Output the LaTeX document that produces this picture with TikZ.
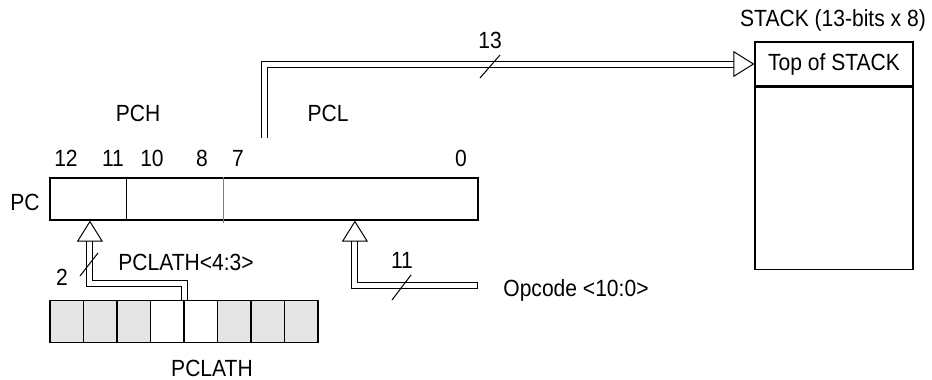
\documentclass[tikz,border=0pt]{standalone}
\usepackage{fontspec}
\setmainfont{Liberation Sans}[FakeStretch=0.9]
\usepackage{tikz}
\usetikzlibrary{arrows.meta, positioning}

\begin{document}
\begin{tikzpicture}[
    x=0.5pt, y=-0.5pt,
    font=\fontsize{11.7}{13}\selectfont,
    reg/.style={rectangle, draw, line width=0.6pt, inner sep=0pt, minimum height=21pt},
    cell/.style={reg, minimum width=16.75pt},
    lbl/.style={inner sep=0pt},
    bus/.style={line width=0.5pt, double, double distance=2.5pt},
    busarrow/.style={-{Triangle[open, length=10.5pt, width=13pt, line width=0.5pt]}},
    slash/.style={line width=0.5pt}
]
\useasboundingbox (0,0) rectangle (932,380);

% PC register
\node[reg, minimum width=214pt] (pcreg) at (264,199) {};
\node[lbl] (pclbl) at (25,202) {PC};
\draw[line width=0.6pt] ([xshift=38.5pt]pcreg.north west) -- ([xshift=38.5pt]pcreg.south west);
\draw[gray, line width=0.5pt] ([xshift=87pt]pcreg.north west) -- ([xshift=87pt, yshift=-1pt]pcreg.south west);

% Bit numbers and halves
\foreach \b/\x in {12/66, 11/113, 10/152, 8/202, 7/238, 0/461}
    \node[lbl] (bit\b) at (\x,158) {\b};
\node[lbl] (pch) at (138,113) {PCH};
\node[lbl] (pcl) at (328,113) {PCL};

% Stack
\node[reg, minimum width=79pt, minimum height=22pt] (tos) at (834,64) {Top of STACK};
\node[reg, minimum width=79pt, minimum height=91pt, below=0pt of tos] (stack) {};
\node[lbl] (stacklbl) at (833,20) {STACK (13-bits x 8)};

% PCLATH register
\foreach \i/\f in {1/gray!20, 2/gray!20, 3/gray!20, 4/white, 5/white, 6/gray!20, 7/gray!20, 8/gray!20}
    \node[cell, fill=\f] (c\i) at ({33.5*\i+33.25},321.7) {};
\node[lbl] (pclathlbl) at (212,368) {PCLATH};

% Buses
\coordinate (pcltap) at (264.5,138);
\draw[bus, busarrow] (pcltap) |- (tos.west);
\draw[slash] (480,78) -- (500,55);
\node[lbl] (w13) at (490,40) {13};

\coordinate (pchi) at ([xshift=20.25pt]pcreg.south west);
\draw[bus, busarrow] (c4.north east) -- ++(0,-16.5) -| (pchi);
\draw[slash] (80,276) -- (98,253);
\node[lbl] (w2) at (62,277) {2};
\node[lbl] (pclathsel) at (186,262) {PCLATH<4:3>};

\coordinate (pclo) at ([xshift=152.75pt]pcreg.south west);
\coordinate (opin) at (477,285);
\draw[bus, busarrow] (opin) -| (pclo);
\draw[slash] ([yshift=1.75pt]opin) -- ([yshift=-1.75pt]opin);
\draw[slash] (392,300) -- (411,275);
\node[lbl] (w11) at (402,260) {11};
\node[lbl, anchor=west] (opcode) at (503,290) {Opcode <10:0>};

\end{tikzpicture}
\end{document}
